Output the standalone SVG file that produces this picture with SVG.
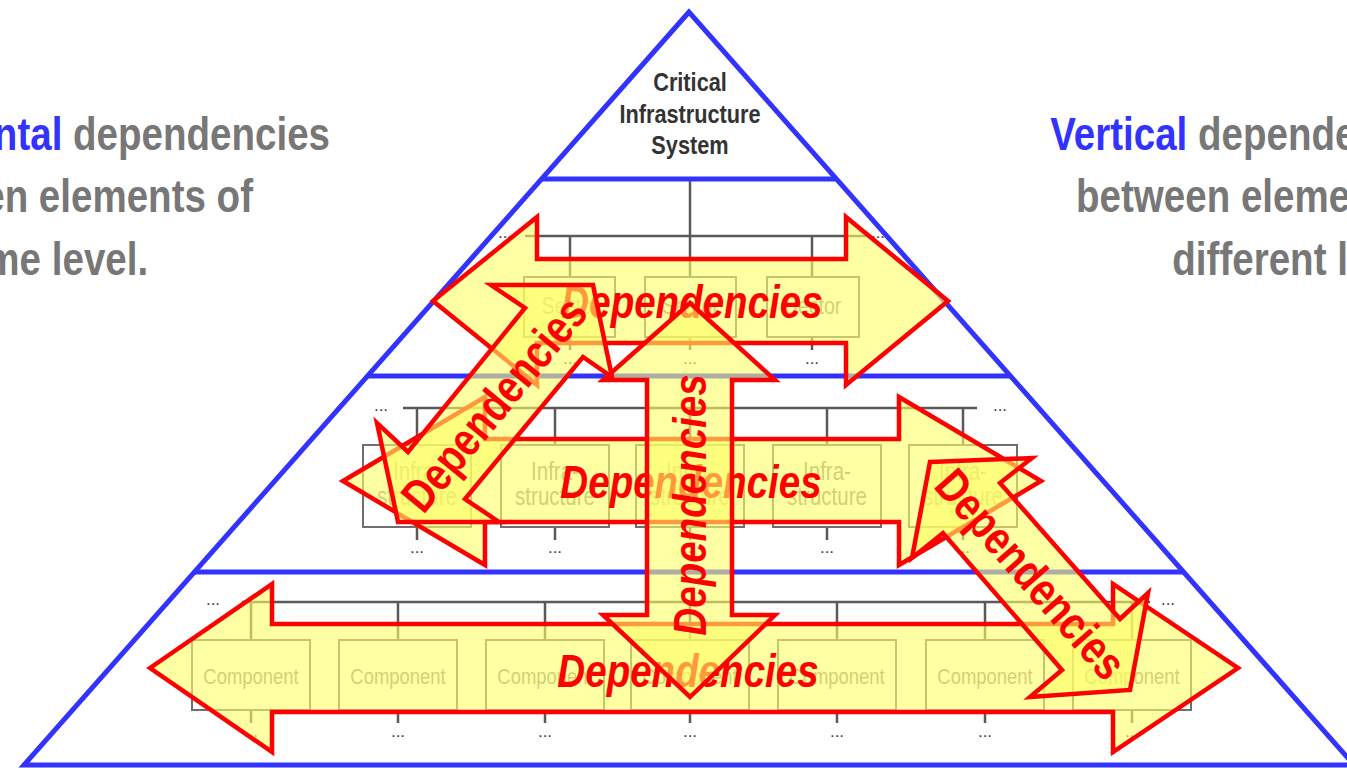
<svg xmlns="http://www.w3.org/2000/svg" width="1347" height="768" viewBox="0 0 1347 768">
<style>
.pyr{fill:none;stroke:#3333ff;stroke-width:5;stroke-linejoin:miter}
.lvl{stroke:#3333ff;stroke-width:5;fill:none}
.tree{stroke:#595959;stroke-width:2.5;fill:none}
.box{fill:none;stroke:#6e6e6e;stroke-width:2}
.lbl{font-family:"Liberation Sans",Arial,sans-serif;fill:#8c8c8c;text-anchor:middle}
.dots{font-family:"Liberation Sans",Arial,sans-serif;font-size:17px;fill:#404040;text-anchor:middle}
.arrow{fill:#ffff66;fill-opacity:0.6;stroke:#ff0000;stroke-width:4.5;stroke-linejoin:miter;stroke-miterlimit:10}
.dep{font-family:"Liberation Sans",Arial,sans-serif;font-weight:bold;font-size:47px;fill:#ff0000;text-anchor:middle}
.it{font-style:italic}
.side{font-family:"Liberation Sans",Arial,sans-serif;font-weight:bold;font-size:47px;fill:#777777}
.blue{fill:#3333ff}
.apex{font-family:"Liberation Sans",Arial,sans-serif;font-weight:bold;font-size:26.5px;fill:#333333;text-anchor:middle}
</style>

<g id="side-texts">
<text class="side" transform="translate(-126,150) scale(0.82,1)"><tspan class="blue">Horizontal</tspan> dependencies</text>
<text class="side" transform="translate(-126,212) scale(0.82,1)">between elements of</text>
<text class="side" transform="translate(-126,275) scale(0.82,1)">the same level.</text>
<text class="side" text-anchor="end" transform="translate(1455,150) scale(0.82,1)"><tspan class="blue">Vertical</tspan> dependencies</text>
<text class="side" text-anchor="end" transform="translate(1455,212) scale(0.82,1)">between elements of</text>
<text class="side" text-anchor="end" transform="translate(1455,275) scale(0.82,1)">different levels.</text>
</g>

<g id="pyramid">
<polygon class="pyr" points="689,12 24,765 1354,765"/>
<path class="lvl" d="M541,179H837 M367,376H1011 M194,572H1184"/>
</g>

<g id="apex-node">
<text class="apex" transform="translate(690,91) scale(0.82,1)">Critical</text>
<text class="apex" transform="translate(690,123) scale(0.82,1)">Infrastructure</text>
<text class="apex" transform="translate(690,154) scale(0.82,1)">System</text>
</g>

<g id="connectors">
<path class="tree" d="M690,181V236 M525,236H870 M570,236V277 M690,236V277 M812,236V277 M570,337V350 M690,337V350 M812,337V350"/>
<path class="tree" d="M403,408H977 M417,408V445 M555,408V445 M690,408V445 M827,408V445 M963,408V445 M417,527V540 M555,527V540 M690,527V540 M827,527V540 M963,527V540"/>
<path class="tree" d="M242,602H1150 M251,602V640 M398,602V640 M545,602V640 M690,602V640 M837,602V640 M985,602V640 M1132,602V640 M251,710V723 M398,710V723 M545,710V723 M690,710V723 M837,710V723 M985,710V723 M1132,710V723"/>
</g>

<g id="ellipses">
<text class="dots" x="505" y="238">...</text>
<text class="dots" x="878" y="238">...</text>
<text class="dots" x="570" y="364">...</text>
<text class="dots" x="690" y="364">...</text>
<text class="dots" x="812" y="364">...</text>
<text class="dots" x="381" y="411">...</text>
<text class="dots" x="1000" y="411">...</text>
<text class="dots" x="417" y="553">...</text>
<text class="dots" x="555" y="553">...</text>
<text class="dots" x="690" y="553">...</text>
<text class="dots" x="827" y="553">...</text>
<text class="dots" x="963" y="553">...</text>
<text class="dots" x="213" y="605">...</text>
<text class="dots" x="1168" y="605">...</text>
<text class="dots" x="251" y="737">...</text>
<text class="dots" x="398" y="737">...</text>
<text class="dots" x="545" y="737">...</text>
<text class="dots" x="690" y="737">...</text>
<text class="dots" x="837" y="737">...</text>
<text class="dots" x="985" y="737">...</text>
<text class="dots" x="1132" y="737">...</text>
</g>

<g id="sector-nodes">
<g id="sector-1"><rect class="box" x="524" y="277" width="91" height="60"/><text class="lbl" font-size="24" transform="translate(570,314) scale(0.82,1)">Sector</text></g>
<g id="sector-2"><rect class="box" x="645" y="277" width="91" height="60"/><text class="lbl" font-size="24" transform="translate(690.5,314) scale(0.82,1)">Sector</text></g>
<g id="sector-3"><rect class="box" x="767" y="277" width="92" height="60"/><text class="lbl" font-size="24" transform="translate(813,314) scale(0.82,1)">Sector</text></g>
</g>

<g id="infrastructure-nodes">
<g id="infra-1"><rect class="box" x="363" y="445" width="108" height="82"/><text class="lbl" font-size="25" transform="translate(417,480) scale(0.82,1)">Infra-</text><text class="lbl" font-size="25" transform="translate(417,505) scale(0.82,1)">structure</text></g>
<g id="infra-2"><rect class="box" x="501" y="445" width="108" height="82"/><text class="lbl" font-size="25" transform="translate(555,480) scale(0.82,1)">Infra-</text><text class="lbl" font-size="25" transform="translate(555,505) scale(0.82,1)">structure</text></g>
<g id="infra-3"><rect class="box" x="636" y="445" width="108" height="82"/><text class="lbl" font-size="25" transform="translate(690,480) scale(0.82,1)">Infra-</text><text class="lbl" font-size="25" transform="translate(690,505) scale(0.82,1)">structure</text></g>
<g id="infra-4"><rect class="box" x="773" y="445" width="108" height="82"/><text class="lbl" font-size="25" transform="translate(827,480) scale(0.82,1)">Infra-</text><text class="lbl" font-size="25" transform="translate(827,505) scale(0.82,1)">structure</text></g>
<g id="infra-5"><rect class="box" x="909" y="445" width="108" height="82"/><text class="lbl" font-size="25" transform="translate(963,480) scale(0.82,1)">Infra-</text><text class="lbl" font-size="25" transform="translate(963,505) scale(0.82,1)">structure</text></g>
</g>

<g id="component-nodes">
<g id="comp-1"><rect class="box" x="192" y="640" width="118" height="70"/><text class="lbl" font-size="22.5" transform="translate(251,684) scale(0.82,1)">Component</text></g>
<g id="comp-2"><rect class="box" x="339" y="640" width="118" height="70"/><text class="lbl" font-size="22.5" transform="translate(398,684) scale(0.82,1)">Component</text></g>
<g id="comp-3"><rect class="box" x="486" y="640" width="118" height="70"/><text class="lbl" font-size="22.5" transform="translate(545,684) scale(0.82,1)">Component</text></g>
<g id="comp-4"><rect class="box" x="631" y="640" width="118" height="70"/><text class="lbl" font-size="22.5" transform="translate(690,684) scale(0.82,1)">Component</text></g>
<g id="comp-5"><rect class="box" x="778" y="640" width="118" height="70"/><text class="lbl" font-size="22.5" transform="translate(837,684) scale(0.82,1)">Component</text></g>
<g id="comp-6"><rect class="box" x="926" y="640" width="118" height="70"/><text class="lbl" font-size="22.5" transform="translate(985,684) scale(0.82,1)">Component</text></g>
<g id="comp-7"><rect class="box" x="1073" y="640" width="118" height="70"/><text class="lbl" font-size="22.5" transform="translate(1132,684) scale(0.82,1)">Component</text></g>
</g>

<g id="dependency-arrows">
<g id="arrow-sector-level">
<polygon class="arrow" points="433,301 537,217 537,259 846,259 846,217 948,301 846,385 846,343 537,343 537,385"/>
<text class="dep it" transform="translate(692,318) scale(0.82,1)">Dependencies</text>
</g>
<g id="arrow-infra-level">
<polygon class="arrow" points="343,481 485,397 485,439 899,439 899,397 1041,481 899,565 899,522 485,522 485,565"/>
<text class="dep it" transform="translate(691,498) scale(0.82,1)">Dependencies</text>
</g>
<g id="arrow-component-level">
<polygon class="arrow" points="150,668 272,584 272,624 1113,624 1113,584 1238,668 1113,752 1113,712 272,712 272,752"/>
<text class="dep it" transform="translate(688,687) scale(0.82,1)">Dependencies</text>
</g>
<g id="arrow-vertical">
<polygon class="arrow" points="690,303 775,380 732,380 732,615 775,615 690,697 603,615 647,615 647,380 603,380"/>
<text class="dep it" transform="translate(690,505) rotate(-90) scale(0.82,1)" y="16">Dependencies</text>
</g>
<g id="arrow-diagonal-left">
<polygon class="arrow" points="593,285 612,377 583,357 465,499 499,522 398,522 377,423 408,452 525,308 491,285"/>
<text class="dep" font-size="42" transform="translate(495,405) rotate(-50.5) scale(0.82,1)" y="15">Dependencies</text>
</g>
<g id="arrow-diagonal-right">
<polygon class="arrow" points="930,462 1032,458 1000,483 1120,619 1148,593 1130,690 1030,697 1062,670 943,533 912,558"/>
<text class="dep" font-size="42" transform="translate(1030,575) rotate(48.7) scale(0.82,1)" y="15">Dependencies</text>
</g>
</g>
</svg>
